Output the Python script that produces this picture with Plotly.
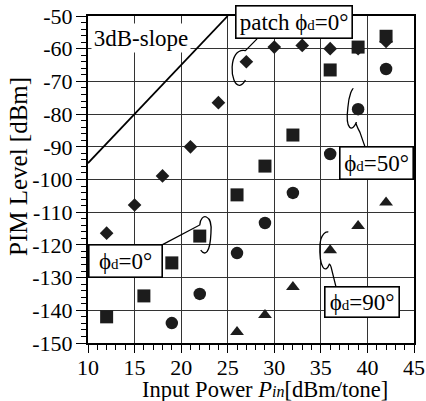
import plotly.graph_objects as go

# ---- data ----
dia_x = [12, 15, 18, 21, 24, 27, 30, 33, 36, 39, 42]
dia_y = [-116.4, -107.8, -98.9, -90.0, -76.5, -64.0, -59.5, -59.0, -60.0, -60.0, -57.8]

sq_x = [12, 16, 19, 22, 26, 29, 32, 36, 39, 42]
sq_y = [-142.0, -135.6, -125.5, -117.3, -104.7, -95.9, -86.4, -66.5, -59.5, -56.2]

cir_x = [19, 22, 26, 29, 32, 36, 39, 42]
cir_y = [-143.9, -135.0, -122.5, -113.3, -104.1, -92.2, -78.5, -66.2]

tri_x = [26, 29, 32, 36, 39, 42]
tri_y = [-146.6, -141.4, -132.9, -121.6, -114.2, -107.0]

slope_x = [10, 25]
slope_y = [-95, -50]

x_ticks = [10, 15, 20, 25, 30, 35, 40, 45]
x_ticklabels = ["10", "15", "20", "25", "30", "35", "40", "45"]
y_ticks = [-50, -60, -70, -80, -90, -100, -110, -120, -130, -140, -150]
y_ticklabels = ["-50", "-60", "-70", "-80", "-90", "-100", "-110", "-120", "-130", "-140", "-150"]

FONT = "Liberation Serif"
MC = "#1c1c1c"

fig = go.Figure()
fig.add_trace(go.Scatter(x=slope_x, y=slope_y, mode="lines",
                         line=dict(color="black", width=1.8), showlegend=False))
fig.add_trace(go.Scatter(x=dia_x, y=dia_y, mode="markers",
                         marker=dict(symbol="diamond", size=10.5, color=MC), showlegend=False))
fig.add_trace(go.Scatter(x=sq_x, y=sq_y, mode="markers",
                         marker=dict(symbol="square", size=13, color=MC), showlegend=False))
fig.add_trace(go.Scatter(x=cir_x, y=cir_y, mode="markers",
                         marker=dict(symbol="circle", size=12.5, color=MC), showlegend=False))
fig.add_trace(go.Scatter(x=tri_x, y=tri_y, mode="markers",
                         marker=dict(symbol="triangle-up", size=12, color=MC), showlegend=False))

# leader lines / loops (decorations)
lw = dict(color="black", width=1.3)
shapes = [
    dict(type="path", path="M 28.15,-57.0 L 26.9,-60.6 C 25.0,-59.5 25.2,-71.5 26.3,-71.2 C 26.6,-71.0 26.8,-70.2 26.9,-69.6",
         line=lw),
    dict(type="path", path="M 39.75,-90.1 L 39.2,-85.6 C 38.9,-84.0 38.7,-82.5 38.8,-82.6 C 38.4,-85.5 37.6,-85.0 37.9,-78.0 C 38.0,-74.0 38.4,-72.0 38.5,-72.3",
         line=lw),
    dict(type="path", path="M 36.63,-132.9 L 36.1,-126.8 C 36.0,-125.8 35.9,-125.8 35.9,-126.0 C 35.5,-129.0 34.8,-127.0 34.9,-120.0 C 35.0,-116.5 35.6,-115.8 35.8,-116.1",
         line=lw),
    dict(type="path", path="M 17.95,-120.0 L 22.0,-113.9 C 22.1,-110.0 23.4,-110.5 23.2,-116.4 C 23.1,-122.5 22.6,-123.5 22.1,-121.6",
         line=lw),
]

ann_common = dict(showarrow=False, font=dict(family=FONT, size=23, color="black"),
                  bgcolor="white", bordercolor="black", borderwidth=1.6, borderpad=1)
sub = "<span style='font-size:15px'>d</span>"
annotations = [
    dict(x=32.12, y=-51.8, xref="x", yref="y", text="patch ϕ" + sub + "=0°",
         width=113, height=29, **ann_common),
    dict(x=40.92, y=-94.95, xref="x", yref="y", text="ϕ" + sub + "=50°",
         width=70, height=29, **ann_common),
    dict(x=39.42, y=-137.5, xref="x", yref="y", text="ϕ" + sub + "=90°",
         width=71, height=27, **ann_common),
    dict(x=13.98, y=-125.05, xref="x", yref="y", text="ϕ" + sub + "=0°",
         width=70, height=29, **ann_common),
    dict(x=15.7, y=-56.8, xref="x", yref="y", text="3dB-slope", showarrow=False,
         font=dict(family=FONT, size=23, color="black"), bgcolor="white",
         width=96, height=26),
    dict(x=-0.215, y=0.541, xref="paper", yref="paper", xanchor="center", yanchor="middle",
         text="PIM Level [dBm]",
         textangle=-90, showarrow=False, font=dict(family=FONT, size=25, color="black")),
    dict(x=0.543, y=-0.142, xref="paper", yref="paper", xanchor="center", yanchor="middle",
         text="Input Power <i>P<span style='font-size:16px'>in</span></i>[dBm/tone]",
         showarrow=False, font=dict(family=FONT, size=22.5, color="black")),
]

fig.update_layout(
    template="none",
    width=426, height=401,
    margin=dict(l=88, r=12, t=16, b=58, autoexpand=False),
    paper_bgcolor="white", plot_bgcolor="white",
    font=dict(family=FONT, size=22, color="black"),
    shapes=shapes, annotations=annotations,
    showlegend=False,
)
axis_common = dict(showline=True, linecolor="black", linewidth=2, mirror=True,
                   showgrid=True, gridcolor="#333333", gridwidth=1,
                   ticks="outside", tickwidth=1.3, tickcolor="black",
                   zeroline=False, automargin=False,
                   tickfont=dict(family=FONT, size=22, color="black"))
fig.update_xaxes(range=[10, 45], tickvals=x_ticks, ticktext=x_ticklabels, ticklen=8,
                 ticklabelstandoff=-4,
                 minor=dict(dtick=1, tick0=10, ticks="outside", ticklen=5, tickwidth=1.2,
                            tickcolor="black", showgrid=False),
                 **axis_common)
fig.update_yaxes(range=[-150, -50], tickvals=y_ticks, ticktext=y_ticklabels, ticklen=10,
                 ticklabelstandoff=-1,
                 minor=dict(dtick=2, tick0=-50, ticks="outside", ticklen=5, tickwidth=1.2,
                            tickcolor="black", showgrid=False),
                 **axis_common)

fig.write_html("out.html", config={"displayModeBar": False},
               post_script="document.body.style.margin='0px';")
